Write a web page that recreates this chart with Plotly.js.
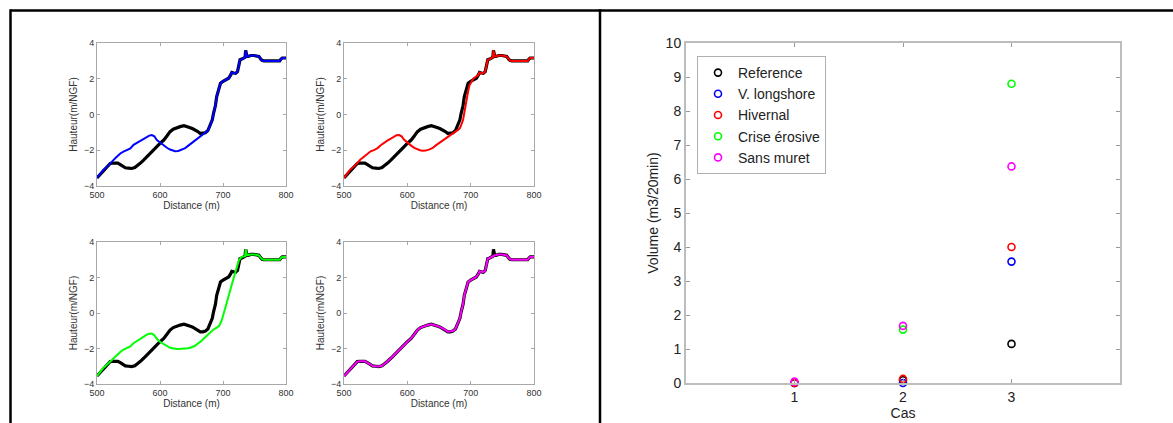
<!DOCTYPE html>
<html>
<head>
<meta charset="utf-8">
<script src="https://cdn.plot.ly/plotly-3.0.1.min.js"></script>
<style>body{margin:0;padding:0;background:#fff}#chart{width:1173px;height:423px}</style>
</head>
<body>
<div id="chart"></div>
<script>
// ---- Profile data (Distance in m, Hauteur in m/NGF) ----
const ref_x = [500,505,510,516,521,525,529,533,537,541,545,550,555,560,564,569,574,580,585,590,595,600,606,611,616,621,627,632,638,643,648,652,656,660,664,668,672,676,680,683,685,688,690,693,696,700,704,707,709,712,714,717,720,723,725,727,730,733,735,736,737,738,740,744,749,753,757,760,762,765,770,780,790,792,794,797,800];
const ref_y = [-3.55,-3.35,-3.12,-2.9,-2.74,-2.72,-2.7,-2.72,-2.8,-2.88,-2.98,-3.0,-3.02,-2.97,-2.87,-2.72,-2.55,-2.35,-2.18,-2.0,-1.8,-1.62,-1.43,-1.2,-0.96,-0.82,-0.72,-0.68,-0.63,-0.67,-0.74,-0.8,-0.87,-0.95,-1.06,-1.06,-1.02,-0.9,-0.59,-0.3,0.07,0.5,1.0,1.4,1.75,1.85,1.94,1.98,2.03,2.2,2.35,2.32,2.3,2.4,2.7,3.06,3.1,3.16,3.2,3.59,3.3,3.25,3.25,3.3,3.3,3.28,3.25,3.1,3.03,3.0,3.0,3.0,3.0,3.1,3.16,3.16,3.16];

const longshore_x = [500,505,510,516,521,526,531,537,542,548,553,558,563,569,574,579,583,587,591,595,600,606,611,616,620,624,629,635,640,645,650,655,659,664,669,673,676,680,683,685,688,690,693,696,700,704,707,709,712,714,717,720,723,725,727,730,733,735,736,737,738,740,744,749,753,757,760,762,765,770,780,790,792,794,797,800];
const longshore_y = [-3.55,-3.3,-3.1,-2.93,-2.72,-2.55,-2.38,-2.18,-2.08,-2.0,-1.9,-1.7,-1.6,-1.45,-1.35,-1.24,-1.18,-1.15,-1.22,-1.43,-1.58,-1.73,-1.86,-1.96,-2.01,-2.05,-2.04,-1.97,-1.88,-1.74,-1.6,-1.46,-1.35,-1.22,-1.1,-1.0,-0.9,-0.59,-0.3,0.07,0.5,1.0,1.4,1.75,1.85,1.94,1.98,2.03,2.2,2.35,2.32,2.3,2.4,2.7,3.06,3.1,3.16,3.2,3.59,3.3,3.25,3.25,3.3,3.3,3.28,3.25,3.1,3.03,3.0,3.0,3.0,3.0,3.1,3.16,3.16,3.16];

const hivernal_x = [500,505,510,516,521,526,531,537,542,548,553,558,563,569,574,579,583,587,591,595,600,606,611,616,620,624,629,635,640,645,650,655,659,664,669,673,677,680,683,686,688,690,693,696,698,701,704,707,710,712,714,717,720,723,725,727,730,733,735,736,737,738,740,744,749,753,757,760,762,765,770,780,790,792,794,797,800];
const hivernal_y = [-3.55,-3.3,-3.08,-2.9,-2.7,-2.52,-2.38,-2.2,-2.06,-1.98,-1.88,-1.72,-1.58,-1.45,-1.35,-1.22,-1.16,-1.15,-1.22,-1.42,-1.58,-1.74,-1.87,-1.96,-2.0,-2.03,-2.02,-1.95,-1.87,-1.73,-1.6,-1.46,-1.35,-1.22,-1.1,-1.0,-0.93,-0.86,-0.76,-0.5,-0.3,0.1,0.8,1.3,1.62,1.85,2.0,2.08,2.15,2.2,2.35,2.32,2.3,2.4,2.7,3.06,3.1,3.16,3.2,3.59,3.3,3.25,3.25,3.3,3.3,3.28,3.25,3.1,3.03,3.0,3.0,3.0,3.0,3.1,3.16,3.16,3.16];

const crise_x = [500,505,510,516,521,526,531,537,542,548,553,558,563,569,574,579,583,587,591,595,600,606,611,616,622,627,633,640,645,650,655,660,665,670,675,680,685,690,694,698,702,706,710,714,718,722,725,729,733,735,736,737,738,740,744,749,753,757,760,762,765,770,780,790,792,794,797,800];
const crise_y = [-3.55,-3.3,-3.1,-2.9,-2.72,-2.55,-2.38,-2.2,-2.06,-1.98,-1.88,-1.7,-1.58,-1.45,-1.35,-1.22,-1.17,-1.16,-1.25,-1.45,-1.62,-1.76,-1.88,-1.96,-2.0,-2.03,-2.02,-2.01,-1.98,-1.93,-1.86,-1.72,-1.6,-1.42,-1.24,-1.08,-0.93,-0.82,-0.72,-0.42,0.05,0.6,1.1,1.6,2.1,2.62,2.95,3.15,3.18,3.2,3.59,3.3,3.25,3.25,3.3,3.3,3.28,3.25,3.1,3.03,3.0,3.0,3.0,3.0,3.1,3.16,3.16,3.16];

const muret_x = [500,505,510,516,521,525,529,533,537,541,545,550,555,560,564,569,574,580,585,590,595,600,606,611,616,621,627,632,638,643,648,652,656,660,664,668,672,676,680,683,685,688,690,693,696,700,704,707,709,712,714,717,720,723,725,727,730,733,735,736,737,738,740,744,749,753,757,760,762,765,770,780,790,792,794,797,800];
const muret_y = [-3.55,-3.35,-3.12,-2.9,-2.74,-2.72,-2.7,-2.72,-2.8,-2.88,-2.98,-3.0,-3.02,-2.97,-2.87,-2.72,-2.55,-2.35,-2.18,-2.0,-1.8,-1.62,-1.43,-1.2,-0.96,-0.82,-0.72,-0.68,-0.63,-0.67,-0.74,-0.8,-0.87,-0.95,-1.06,-1.06,-1.02,-0.9,-0.59,-0.3,0.07,0.5,1.0,1.4,1.75,1.85,1.94,1.98,2.03,2.2,2.35,2.32,2.3,2.4,2.7,3.06,3.1,3.16,3.2,3.2,3.22,3.25,3.25,3.3,3.3,3.28,3.25,3.1,3.03,3.0,3.0,3.0,3.0,3.1,3.16,3.16,3.16];

// ---- Volume data ----
const cases = [1, 2, 3];
const vol_reference = [0, 0.08, 1.15];
const vol_longshore = [0, 0, 3.57];
const vol_hivernal = [0, 0.12, 4.0];
const vol_crise = [-0.02, 1.57, 8.8];
const vol_muret = [0.04, 1.68, 6.37];

const seriesNames = ['Reference', 'V. longshore', 'Hivernal', 'Crise érosive', 'Sans muret'];
const seriesColors = ['#000000', '#0000ff', '#ff0000', '#00ff00', '#ff00ff'];

const traces = [];
const profiles = [
  {x: longshore_x, y: longshore_y, c: seriesColors[1], ax: ''},
  {x: hivernal_x, y: hivernal_y, c: seriesColors[2], ax: '2'},
  {x: crise_x, y: crise_y, c: seriesColors[3], ax: '3'},
  {x: muret_x, y: muret_y, c: seriesColors[4], ax: '4'}
];
profiles.forEach(p => {
  traces.push({x: ref_x, y: ref_y, type: 'scatter', mode: 'lines', xaxis: 'x' + p.ax, yaxis: 'y' + p.ax,
    line: {color: '#000', width: 3.2}, showlegend: false, hoverinfo: 'skip'});
  traces.push({x: p.x, y: p.y, type: 'scatter', mode: 'lines', xaxis: 'x' + p.ax, yaxis: 'y' + p.ax,
    line: {color: p.c, width: 2}, showlegend: false, hoverinfo: 'skip'});
});
const vols = [vol_reference, vol_longshore, vol_hivernal, vol_crise, vol_muret];
vols.forEach((v, i) => {
  traces.push({x: cases, y: v, type: 'scatter', mode: 'markers', xaxis: 'x5', yaxis: 'y5',
    name: seriesNames[i], cliponaxis: false,
    marker: {symbol: 'circle-open', size: 7, color: seriesColors[i], line: {width: 1.6, color: seriesColors[i]}}});
});

const W = 1173, H = 423;
const px = v => v / W, py = v => 1 - v / H;
const gray = '#a8a8a8';
function leftX(d0, d1, anchor) {
  return {domain: [px(d0), px(d1)], anchor: anchor, range: [500, 800], tickvals: [500, 600, 700, 800],
    showline: true, linecolor: gray, linewidth: 1, mirror: 'ticks', ticks: 'inside', ticklen: 3, tickcolor: gray,
    showgrid: false, zeroline: false, tickfont: {size: 9, color: '#333'},
    title: {text: 'Distance (m)', standoff: 3, font: {size: 10, color: '#333'}}, fixedrange: true};
}
function leftY(t, b, anchor) {
  return {domain: [py(b), py(t)], anchor: anchor, range: [-4, 4], tickvals: [-4, -2, 0, 2, 4],
    showline: true, linecolor: gray, linewidth: 1, mirror: 'ticks', ticks: 'inside', ticklen: 3, tickcolor: gray,
    showgrid: false, zeroline: false, tickfont: {size: 9, color: '#333'},
    title: {text: 'Hauteur(m/NGF)', standoff: 4, font: {size: 10, color: '#333'}}, fixedrange: true};
}

const layout = {
  width: W, height: H, margin: {l: 0, r: 0, t: 0, b: 0},
  paper_bgcolor: '#fff', plot_bgcolor: '#fff',
  font: {family: 'Liberation Sans, Arial, sans-serif', color: '#222'},
  xaxis: leftX(97, 286, 'y'), yaxis: leftY(43, 186, 'x'),
  xaxis2: leftX(344, 534, 'y2'), yaxis2: leftY(43, 186, 'x2'),
  xaxis3: leftX(97, 286, 'y3'), yaxis3: leftY(242, 384, 'x3'),
  xaxis4: leftX(344, 534, 'y4'), yaxis4: leftY(242, 384, 'x4'),
  xaxis5: {domain: [px(686), px(1120)], anchor: 'y5', range: [0, 4], tickvals: [1, 2, 3],
    showline: true, linecolor: '#bdbdbd', linewidth: 2, mirror: 'ticks', ticks: 'inside', ticklen: 4, tickcolor: '#999',
    showgrid: false, zeroline: false, tickfont: {size: 14, color: '#222'},
    title: {text: 'Cas', standoff: 2, font: {size: 14, color: '#222'}}, fixedrange: true},
  yaxis5: {domain: [py(383), py(43)], anchor: 'x5', range: [0, 10], dtick: 1,
    showline: true, linecolor: '#bdbdbd', linewidth: 2, mirror: 'ticks', ticks: 'inside', ticklen: 4, tickcolor: '#999',
    showgrid: false, zeroline: false, tickfont: {size: 14, color: '#222'},
    title: {text: 'Volume (m3/20min)', standoff: 4, font: {size: 14, color: '#222'}}, fixedrange: true},
  showlegend: true,
  legend: {x: px(697), y: py(56), xanchor: 'left', yanchor: 'top', bgcolor: '#fff',
    bordercolor: '#b0b0b0', borderwidth: 1, font: {size: 14, color: '#222'}},
  shapes: [
    {type: 'line', xref: 'paper', yref: 'paper', x0: px(10.5), x1: 1, y0: py(10.5), y1: py(10.5), line: {color: '#000', width: 2.5}},
    {type: 'line', xref: 'paper', yref: 'paper', x0: px(10.5), x1: px(10.5), y0: py(9.3), y1: 0, line: {color: '#000', width: 2.5}},
    {type: 'line', xref: 'paper', yref: 'paper', x0: px(600), x1: px(600), y0: py(9.3), y1: 0, line: {color: '#000', width: 2.5}}
  ]
};

Plotly.newPlot('chart', traces, layout, {displayModeBar: false, staticPlot: true});
</script>
</body>
</html>
